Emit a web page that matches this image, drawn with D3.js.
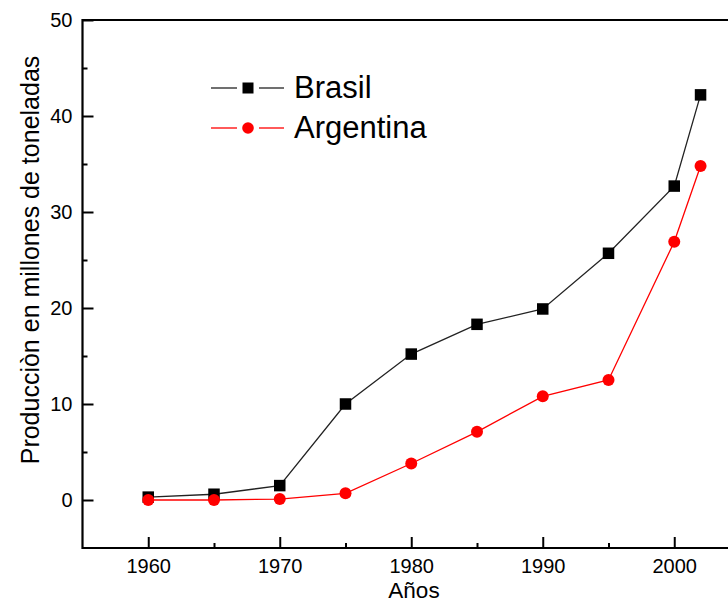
<!DOCTYPE html>
<html>
<head>
<meta charset="utf-8">
<script src="https://cdn.jsdelivr.net/npm/d3@7"></script>
<style>
  body { margin: 0; background: #fff; }
  text { font-family: "Liberation Sans", Arial, sans-serif; fill: #000; }
</style>
</head>
<body>
<div id="main"></div>
<script>
// data
const years = [1960, 1965, 1970, 1975, 1980, 1985, 1990, 1995, 2000, 2002];
const brasil = [0.3, 0.6, 1.5, 10.0, 15.2, 18.3, 19.9, 25.7, 32.7, 42.2];
const argentina = [0.0, 0.0, 0.1, 0.7, 3.8, 7.1, 10.8, 12.5, 26.9, 34.8];
const xTicks = [1960, 1970, 1980, 1990, 2000];
const xMinor = [1965, 1975, 1985, 1995];
const yTicks = [0, 10, 20, 30, 40, 50];
const yMinor = [5, 15, 25, 35, 45];

const width = 728, height = 603;

const svg = d3.select('#main')
    .append('svg')
    .attr('width', width)
    .attr('height', height);

const xScale = d3.scaleLinear()
    .domain([1955, 2005])
    .range([82.5, 740]);

const yScale = d3.scaleLinear()
    .domain([-5, 50])
    .range([548, 20]);

const x0 = xScale(1955), yBottom = yScale(-5), yTop = yScale(50);

// frame: left, bottom, top
svg.append('path')
    .attr('d', `M${width},${yTop}H${x0}V${yBottom}H${width}`)
    .attr('fill', 'none')
    .attr('stroke', '#000')
    .attr('stroke-width', 2.2);

// x axis ticks (inward)
const xAxis = svg.append('g')
    .attr('transform', `translate(0, ${yBottom})`)
    .call(d3.axisBottom(xScale).tickValues(xTicks).tickFormat(d3.format('d')).tickSize(-11).tickPadding(11));
xAxis.select('.domain').remove();
xAxis.selectAll('line').attr('stroke-width', 2);
xAxis.selectAll('text').attr('font-size', 20).attr('font-family', '"Liberation Sans", Arial, sans-serif');

const xAxisMinor = svg.append('g')
    .attr('transform', `translate(0, ${yBottom})`)
    .call(d3.axisBottom(xScale).tickValues(xMinor).tickFormat('').tickSize(-5));
xAxisMinor.select('.domain').remove();
xAxisMinor.selectAll('line').attr('stroke-width', 2);

// y axis ticks (inward)
const yAxis = svg.append('g')
    .attr('transform', `translate(${x0}, 0)`)
    .call(d3.axisLeft(yScale).tickValues(yTicks).tickSize(-11).tickPadding(10));
yAxis.select('.domain').remove();
yAxis.selectAll('line').attr('stroke-width', 2);
yAxis.selectAll('text').attr('font-size', 20).attr('font-family', '"Liberation Sans", Arial, sans-serif');

const yAxisMinor = svg.append('g')
    .attr('transform', `translate(${x0}, 0)`)
    .call(d3.axisLeft(yScale).tickValues(yMinor).tickFormat('').tickSize(-5));
yAxisMinor.select('.domain').remove();
yAxisMinor.selectAll('line').attr('stroke-width', 2);

// axis titles
svg.append('text')
    .attr('x', 414)
    .attr('y', 598)
    .attr('text-anchor', 'middle')
    .attr('font-size', 22.5)
    .text('Años');

svg.append('text')
    .attr('transform', `translate(39, 260) rotate(-90)`)
    .attr('text-anchor', 'middle')
    .attr('font-size', 25)
    .text('Producciòn en millones de toneladas');

const line = d3.line()
    .x((d, i) => xScale(years[i]))
    .y(d => yScale(d));

// Brasil
svg.append('path')
    .datum(brasil)
    .attr('fill', 'none')
    .attr('stroke', '#222')
    .attr('stroke-width', 1.3)
    .attr('d', line);

// Argentina
svg.append('path')
    .datum(argentina)
    .attr('fill', 'none')
    .attr('stroke', '#ff0000')
    .attr('stroke-width', 1.3)
    .attr('d', line);

const sq = 11.5;
svg.selectAll('.sq')
    .data(brasil)
    .enter()
    .append('rect')
    .attr('x', (d, i) => xScale(years[i]) - sq / 2)
    .attr('y', d => yScale(d) - sq / 2)
    .attr('width', sq)
    .attr('height', sq)
    .attr('fill', '#000');

svg.selectAll('.dot')
    .data(argentina)
    .enter()
    .append('circle')
    .attr('cx', (d, i) => xScale(years[i]))
    .attr('cy', d => yScale(d))
    .attr('r', 6)
    .attr('fill', '#ff0000');

// legend
const legend = [
    { name: 'Brasil', color: '#222', marker: 'square', y: 88 },
    { name: 'Argentina', color: '#ff0000', marker: 'circle', y: 128 }
];
legend.forEach(l => {
    const g = svg.append('g');
    // line with a gap around the marker
    [[211, 237], [259, 284]].forEach(s => {
        g.append('line')
            .attr('x1', s[0]).attr('x2', s[1])
            .attr('y1', l.y).attr('y2', l.y)
            .attr('stroke', l.color)
            .attr('stroke-width', 1.3);
    });
    if (l.marker === 'square') {
        g.append('rect')
            .attr('x', 248 - 11 / 2).attr('y', l.y - 11 / 2)
            .attr('width', 11).attr('height', 11)
            .attr('fill', '#000');
    } else {
        g.append('circle')
            .attr('cx', 248).attr('cy', l.y)
            .attr('r', 5.8)
            .attr('fill', '#ff0000');
    }
    g.append('text')
        .attr('x', 294)
        .attr('y', l.y + 10)
        .attr('font-size', 31)
        .text(l.name);
});
</script>
</body>
</html>
